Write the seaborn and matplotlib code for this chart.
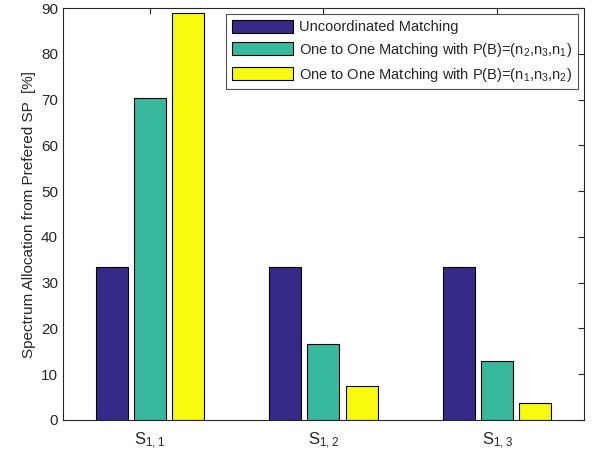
import pandas as pd
import numpy as np
import seaborn as sns
import matplotlib.pyplot as plt

sns.set_style("white")
plt.rcParams['font.family'] = ['Liberation Sans', 'DejaVu Sans']
plt.rcParams['mathtext.default'] = 'regular'

groups = ['S$_{1,1}$', 'S$_{1,2}$', 'S$_{1,3}$']
series = ['Uncoordinated Matching',
          'One to One Matching with P(B)=(n$_2$,n$_3$,n$_1$)',
          'One to One Matching with P(B)=(n$_1$,n$_3$,n$_2$)']
uncoord = [33.33, 33.33, 33.33]
one_to_one_a = [70.37, 16.67, 12.96]
one_to_one_b = [88.89, 7.41, 3.70]
colors = ['#352a87', '#38b99e', '#f9fb0e']

df = pd.DataFrame({
    'group': groups * 3,
    'series': [series[0]] * 3 + [series[1]] * 3 + [series[2]] * 3,
    'value': uncoord + one_to_one_a + one_to_one_b,
})

fig, ax = plt.subplots(figsize=(5.94, 4.55), dpi=100)
fig.subplots_adjust(left=0.106, right=0.983, top=0.982, bottom=0.077)

sns.barplot(data=df, x='group', y='value', hue='series', palette=colors,
            saturation=1, width=0.66, gap=0.16, edgecolor='black', linewidth=0.8,
            errorbar=None, ax=ax)

ax.set_xlim(-0.5, 2.5)
ax.set_ylim(0, 90)
ax.set_yticks(np.arange(0, 91, 10))
ax.set_xlabel('')
ax.set_ylabel('Spectrum Allocation from Prefered SP  [%]', fontsize=11, color='#262626')
ax.tick_params(axis='both', direction='in', length=4, labelsize=11, colors='#262626',
               top=True, right=True)
ax.tick_params(axis='x', pad=8, labelsize=12)
for s in ax.spines.values():
    s.set_color('#262626')
    s.set_linewidth(0.8)

leg = ax.legend(loc='upper right', fontsize=10.5, handlelength=4.2, handleheight=1.0,
                frameon=True, fancybox=False, edgecolor='#262626',
                borderaxespad=0.4, labelspacing=0.45, handletextpad=0.4)
leg.get_frame().set_linewidth(0.8)

plt.savefig('out.png', dpi=100)
